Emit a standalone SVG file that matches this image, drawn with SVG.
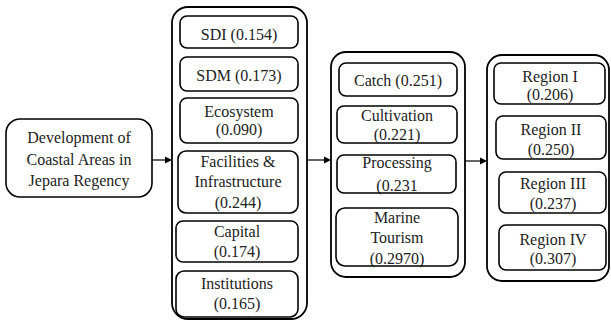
<svg xmlns="http://www.w3.org/2000/svg" width="611" height="320" viewBox="0 0 611 320" font-family="Liberation Serif">
<style>
rect{fill:#fff;stroke:#000;stroke-width:1.6}
.o{stroke-width:1.8}
.c{stroke:#000;stroke-width:1.2}
.h{fill:#000;stroke:none}
</style>
<g id="root"><rect x="6" y="119" width="146" height="78" rx="14"/>
<text x="79" y="143" font-size="16" font-family="Liberation Serif" fill="#222" text-anchor="middle">Development of</text>
<text x="79" y="165" font-size="16" font-family="Liberation Serif" fill="#222" text-anchor="middle">Coastal Areas in</text>
<text x="79" y="186" font-size="16" font-family="Liberation Serif" fill="#222" text-anchor="middle">Jepara Regency</text></g>
<g id="col1"><rect class="o" x="172" y="7" width="135" height="312" rx="16"/></g>
<g id="sdi"><rect x="180" y="16" width="118" height="32" rx="7"/>
<text x="239" y="40" font-size="16" font-family="Liberation Serif" fill="#222" text-anchor="middle">SDI (0.154)</text></g>
<g id="sdm"><rect x="180" y="57" width="118" height="34" rx="7"/>
<text x="239" y="81" font-size="16" font-family="Liberation Serif" fill="#222" text-anchor="middle">SDM (0.173)</text></g>
<g id="eco"><rect x="180" y="98" width="118" height="45" rx="7"/>
<text x="239" y="117" font-size="16" font-family="Liberation Serif" fill="#222" text-anchor="middle">Ecosystem</text>
<text x="239" y="135" font-size="16" font-family="Liberation Serif" fill="#222" text-anchor="middle">(0.090)</text></g>
<g id="fac"><rect x="178" y="151" width="120" height="62" rx="8"/>
<text x="238" y="167" font-size="16" font-family="Liberation Serif" fill="#222" text-anchor="middle">Facilities &amp;</text>
<text x="238" y="187" font-size="16" font-family="Liberation Serif" fill="#222" text-anchor="middle">Infrastructure</text>
<text x="238" y="208" font-size="16" font-family="Liberation Serif" fill="#222" text-anchor="middle">(0.244)</text></g>
<g id="cap"><rect x="176" y="221" width="122" height="41" rx="7"/>
<text x="237" y="237" font-size="16" font-family="Liberation Serif" fill="#222" text-anchor="middle">Capital</text>
<text x="237" y="257" font-size="16" font-family="Liberation Serif" fill="#222" text-anchor="middle">(0.174)</text></g>
<g id="ins"><rect x="176" y="271" width="122" height="46" rx="8"/>
<text x="237" y="289" font-size="16" font-family="Liberation Serif" fill="#222" text-anchor="middle">Institutions</text>
<text x="237" y="309" font-size="16" font-family="Liberation Serif" fill="#222" text-anchor="middle">(0.165)</text></g>
<g id="col2"><rect class="o" x="331" y="52" width="134" height="225" rx="15"/></g>
<g id="catch"><rect x="339" y="63" width="118" height="33" rx="7"/>
<text x="398" y="86" font-size="16" font-family="Liberation Serif" fill="#222" text-anchor="middle">Catch (0.251)</text></g>
<g id="cult">
<text x="397" y="121" font-size="16" font-family="Liberation Serif" fill="#222" text-anchor="middle">Cultivation</text>
<text x="397" y="140" font-size="16" font-family="Liberation Serif" fill="#222" text-anchor="middle">(0.221)</text>
<rect x="337" y="106" width="120" height="37" rx="7" style="fill:none"/></g>
<g id="proc">
<text x="397" y="168" font-size="16" font-family="Liberation Serif" fill="#222" text-anchor="middle">Processing</text>
<text x="397" y="191" font-size="16" font-family="Liberation Serif" fill="#222" text-anchor="middle">(0.231</text>
<rect x="337" y="155" width="119" height="38" rx="7" style="fill:none"/></g>
<g id="marine">
<text x="397" y="223" font-size="16" font-family="Liberation Serif" fill="#222" text-anchor="middle">Marine</text>
<text x="397" y="243" font-size="16" font-family="Liberation Serif" fill="#222" text-anchor="middle">Tourism</text>
<text x="397" y="264" font-size="16" font-family="Liberation Serif" fill="#222" text-anchor="middle">(0.2970)</text>
<rect x="336" y="208" width="122" height="58" rx="9" style="fill:none"/></g>
<g id="col3"><rect class="o" x="487" y="55" width="122" height="226" rx="15"/></g>
<g id="r1"><rect x="494" y="63" width="111" height="41" rx="7"/>
<text x="550" y="82" font-size="16" font-family="Liberation Serif" fill="#222" text-anchor="middle">Region I</text>
<text x="550" y="100" font-size="16" font-family="Liberation Serif" fill="#222" text-anchor="middle">(0.206)</text></g>
<g id="r2"><rect x="496" y="116" width="110" height="43" rx="7"/>
<text x="551" y="135" font-size="16" font-family="Liberation Serif" fill="#222" text-anchor="middle">Region II</text>
<text x="551" y="155" font-size="16" font-family="Liberation Serif" fill="#222" text-anchor="middle">(0.250)</text></g>
<g id="r3"><rect x="499" y="172" width="107" height="41" rx="7"/>
<text x="553" y="189" font-size="16" font-family="Liberation Serif" fill="#222" text-anchor="middle">Region III</text>
<text x="553" y="209" font-size="16" font-family="Liberation Serif" fill="#222" text-anchor="middle">(0.237)</text></g>
<g id="r4"><rect x="499" y="225" width="107" height="45" rx="7"/>
<text x="553" y="245" font-size="16" font-family="Liberation Serif" fill="#222" text-anchor="middle">Region IV</text>
<text x="553" y="264" font-size="16" font-family="Liberation Serif" fill="#222" text-anchor="middle">(0.307)</text></g>
<g id="connectors">
<line class="c" x1="152" y1="160" x2="166" y2="160"/>
<polygon class="h" points="165,156.5 172,160 165,163.5"/>
<line class="c" x1="307" y1="160" x2="325" y2="160"/>
<polygon class="h" points="324,156.5 331,160 324,163.5"/>
<line class="c" x1="465" y1="161" x2="481" y2="161"/>
<polygon class="h" points="480,157.5 487,161 480,164.5"/>
</g>
</svg>
